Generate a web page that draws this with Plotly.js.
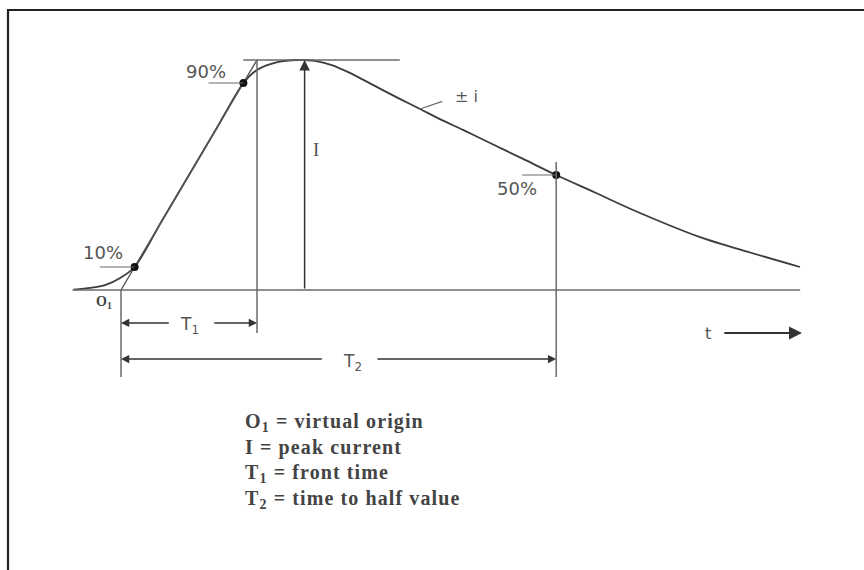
<!DOCTYPE html>
<html>
<head>
<meta charset="utf-8">
<script src="https://cdn.plot.ly/plotly-3.0.1.min.js"></script>
<style>
  html, body { margin: 0; padding: 0; background: #fff; }
  #chart { width: 864px; height: 570px; }
  g.annotation[data-index="0"] text, g.annotation[data-index="1"] text,
  g.annotation[data-index="2"] text, g.annotation[data-index="3"] text { letter-spacing: 1.1px; }
</style>
</head>
<body>
<div id="chart"></div>
<script>
// ---------- data (time in arbitrary units from virtual origin O1, current in % of peak) ----------
const curveT = [-2.8, -1.8, -0.9, -0.05, 0.8, 2.4, 4.0, 5.6, 7.2, 8.0, 9.2, 10.4, 11.4, 12.4, 13.4,
                14.4, 15.4, 16.4, 17.59, 18.76, 20.12, 21.71, 23.65, 25.6, 27.88, 30.12, 34.06, 37.0, 39.94];
const curveI = [0.2, 0.9, 2.2, 5.2, 10, 30, 50, 70, 90, 95.7, 99.1, 100, 99.6, 97.8, 94.6,
                90.8, 86.9, 83.1, 78.7, 74.3, 69.6, 63.9, 57.0, 50, 42.4, 34.8, 23.0, 16.3, 10.0];
const markT = [0.8, 7.2, 25.6];
const markI = [10, 90, 50];
const markLabels = ["10%", "90%", "50%"];
const O1 = 0;          // virtual origin
const T1 = 8.0;        // front time
const T2 = 25.6;       // time to half value
const peakT = 10.8;    // time of peak (arrow I)
const peakI = 100;
const legendLines = [
  "O<sub>1</sub> = virtual origin",
  "I = peak current",
  "T<sub>1</sub> = front time",
  "T<sub>2</sub> = time to half value"
];

// ---------- drawing ----------
const lineCol = "#6a6a6a";
const textCol = "#555";
const traces = [
  { // waveform
    x: curveT, y: curveI, mode: "lines", type: "scatter",
    line: { color: "#3c3c3c", width: 1.8, shape: "spline", smoothing: 0.8 },
    hoverinfo: "skip"
  },
  { // front line through 10% and 90%
    x: [O1, T1], y: [0, peakI], mode: "lines", type: "scatter",
    line: { color: "#555", width: 1.4 }, hoverinfo: "skip"
  },
  { // marked points
    x: markT, y: markI, mode: "markers", type: "scatter",
    marker: { color: "#111", size: 8 }, hoverinfo: "skip"
  }
];

const L = (x0, y0, x1, y1, w) => ({ type: "line", xref: "x", yref: "y", x0, y0, x1, y1,
  line: { color: lineCol, width: w || 1.5 } });

const shapes = [
  L(-2.85, 0, 39.95, 0),                 // time axis baseline
  L(7.2, peakI, 16.4, peakI),            // peak level line
  L(T1, peakI, T1, -18.7),               // T1 vertical
  L(O1, 0, O1, -37.8),                   // O1 vertical
  L(T2, 55.6, T2, -37.8),                // T2 vertical
  L(markT[0] - 2.05, markI[0], markT[0], markI[0], 1.2),
  L(markT[1] - 2.05, markI[1], markT[1], markI[1], 1.2),
  L(markT[2] - 2.0, markI[2], markT[2], markI[2], 1.2),
  L(17.59, 78.7, 18.9, 82.0, 1.2),       // ± i leader
  { type: "rect", xref: "paper", yref: "paper", x0: 8 / 864, y0: -0.02, x1: 1.02, y1: 1 - 10 / 570,
    line: { color: "#222", width: 2.2 } }
];

const arrow = (xh, yh, xt, yt, size, w) => ({
  x: xh, y: yh, ax: xt, ay: yt, xref: "x", yref: "y", axref: "x", ayref: "y",
  text: "", showarrow: true, arrowhead: 2, arrowsize: size || 1.2, arrowwidth: w || 1.5,
  arrowcolor: "#333", standoff: 0, startstandoff: 0
});

const sans = "DejaVu Sans, sans-serif";
const serif = "Liberation Serif, Times New Roman, serif";
const txt = (x, y, text, size, font, extra) => Object.assign({
  x, y, xref: "x", yref: "y", text, showarrow: false,
  font: { family: font || sans, size: size || 15, color: textCol }
}, extra || {});

const annotations = [];
// legend block (indices 0-3)
legendLines.forEach((s, k) => {
  annotations.push(txt(7.18, -51.3 - 11.09 * k, s, 20, serif,
    { xanchor: "left", yanchor: "top", align: "left",
      font: { family: serif, size: 20, color: "#444", weight: "bold" } }));
});
annotations.push(
  arrow(peakT, peakI, peakT, 0, 1.4, 1.5),            // I arrow
  arrow(O1, -14.3, 2.9, -14.3, 1.1, 1.5),             // T1 dim left
  arrow(T1, -14.3, 5.4, -14.3, 1.1, 1.5),             // T1 dim right
  arrow(O1, -30, 11.9, -30, 1.1, 1.5),                // T2 dim left
  arrow(T2, -30, 15.0, -30, 1.1, 1.5),                // T2 dim right
  arrow(40.06, -18.7, 35.4, -18.7, 1.3, 2),           // t arrow
  txt(-1.06, 16.5, markLabels[0], 18),
  txt(5.0, 95.2, markLabels[1], 18),
  txt(23.3, 44, markLabels[2], 18),
  txt(20.3, 84, "± i", 16),
  txt(11.45, 61, "I", 19, serif),
  txt(4.0, -15.5, "T<sub>1</sub>", 17),
  txt(13.6, -31.5, "T<sub>2</sub>", 17),
  txt(-1.0, -5.5, "O<sub>1</sub>", 14, serif, { font: { family: serif, size: 14, color: "#444", weight: "bold" } }),
  txt(34.55, -18.9, "t", 16)
);

const layout = {
  width: 864, height: 570,
  margin: { l: 0, r: 0, t: 0, b: 0 },
  paper_bgcolor: "#fff", plot_bgcolor: "#fff",
  showlegend: false,
  xaxis: { range: [-7.118, 43.706], visible: false, fixedrange: true },
  yaxis: { range: [-121.74, 126.09], visible: false, fixedrange: true },
  shapes, annotations
};

Plotly.newPlot("chart", traces, layout, { staticPlot: true, displayModeBar: false });
</script>
</body>
</html>
